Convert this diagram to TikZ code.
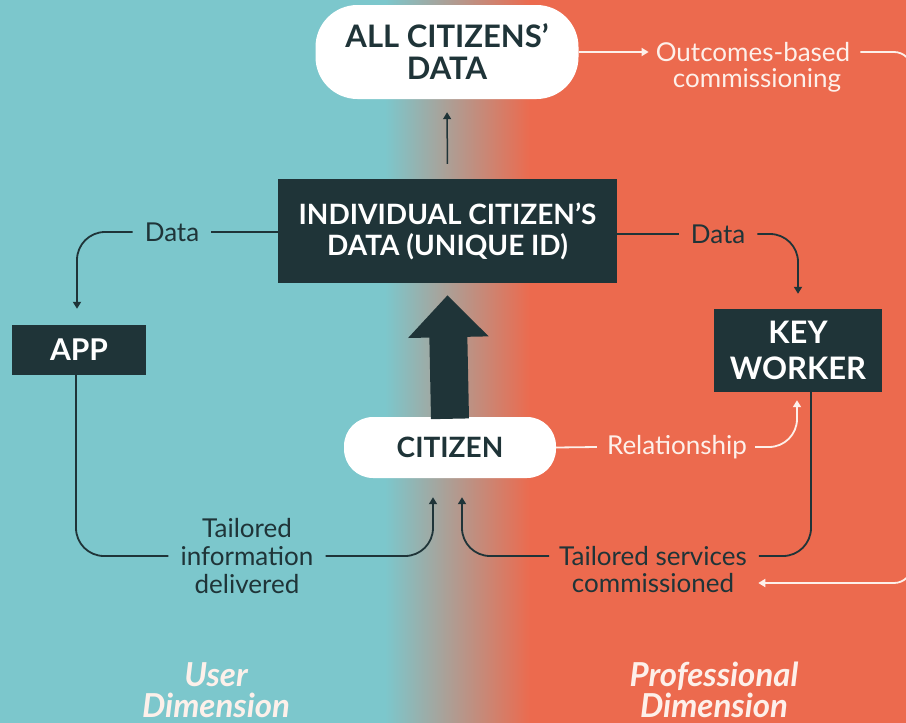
\documentclass[tikz,border=0pt]{standalone}
\usepackage{fontspec}
\setmainfont{Lato}
\usetikzlibrary{arrows.meta}
\definecolor{tealbg}{RGB}{124,199,204}
\definecolor{coralbg}{RGB}{236,106,78}
\definecolor{tanbg}{RGB}{198,166,140}
\definecolor{darkbox}{RGB}{31,52,56}
\definecolor{lighttxt}{RGB}{253,240,234}
\begin{document}
\begin{tikzpicture}[x=1pt,y=-1pt,
  box/.style={fill=darkbox, text=white, font=\bfseries\fontsize{30}{36}\selectfont, align=center, inner sep=0pt},
  pillbox/.style={fill=white, text=darkbox, font=\bfseries\fontsize{28}{32}\selectfont, align=center, inner sep=0pt},
  lbl/.style={font=\fontsize{26}{28}\selectfont, inner sep=0pt, align=center},
  darklbl/.style={lbl, text=darkbox},
  lightlbl/.style={lbl, text=lighttxt},
  tipd/.style={-{Triangle[length=7pt,width=8pt]}},
  darkln/.style={draw=darkbox, line width=1.8pt, rounded corners=28pt},
  lightln/.style={draw=lighttxt, line width=1.8pt, rounded corners=28pt},
  dimlbl/.style={font=\bfseries\itshape\fontsize{33}{31}\selectfont, text=lighttxt, align=center, inner sep=0pt}
]
\useasboundingbox (0,0) rectangle (906,723);
\clip (0,0) rectangle (906,723);
% background
\fill[tealbg] (0,0) rectangle (386,723);
\shade[left color=tealbg, middle color=tanbg, right color=coralbg] (385,0) rectangle (531,723);
\fill[coralbg] (530,0) rectangle (906,723);

% nodes
\node[pillbox, rounded corners=42pt, minimum width=263pt, minimum height=94pt, font=\bfseries\fontsize{31}{32}\selectfont] (all) at (447,52) {ALL CITIZENS’\\DATA};
\node[box, minimum width=339pt, minimum height=104pt, font=\bfseries\fontsize{28}{31}\selectfont] (indiv) at (447.5,231) {INDIVIDUAL CITIZEN’S\\DATA (UNIQUE ID)};
\node[box, minimum width=134pt, minimum height=50pt] (app) at (79,350) {APP};
\node[box, minimum width=168pt, minimum height=83pt, font=\bfseries\fontsize{31}{36}\selectfont] (key) at (798,350.5) {KEY\\WORKER};
\node[pillbox, rounded corners=29pt, minimum width=212pt, minimum height=61pt] (citizen) at (450,447.5) {CITIZEN};

% labels
\node[darklbl] (dataL) at (172,232) {Data};
\node[darklbl] (dataR) at (718,234) {Data};
\node[lightlbl] (outc) at (753,52) {Outcomes-based};
\node[lightlbl] (outc2) at (757,80) {commissioning};
\node[lightlbl] (rel) at (677,447) {Relationship};
\node[darklbl] (info) at (247,556) {Tailored\\information\\delivered};
\node[darklbl] (serv) at (653,556) {Tailored services};
\node[darklbl] (serv2) at (653,583) {commissioned};
\node[dimlbl] (user) at (216,690) {User\\Dimension};
\node[dimlbl] (prof) at (714,690) {Professional\\Dimension};
\coordinate (redge) at (912,300);

% big arrow
\draw[darkbox, line width=38pt, -{Triangle[length=42pt,width=78pt]}] ([yshift=-2pt]citizen.north) -- ([yshift=-12pt]indiv.south);

% connectors
\draw[darkln, line width=1.5pt, tipd, shorten <=15pt, shorten >=13pt] (indiv.north) -- (all.south);
\draw[darkln] (indiv.west |- dataL) -- ([xshift=12pt]dataL.east);
\draw[darkln, tipd] ([xshift=-12pt]dataL.west) -| ([xshift=-2pt,yshift=16pt]app.north);
\draw[darkln] (indiv.east |- dataR) -- ([xshift=-12pt]dataR.west);
\draw[darkln, tipd] ([xshift=12pt]dataR.east) -| ([yshift=15pt]key.north);
\draw[lightln] (citizen.east) -- ([xshift=-10pt]rel.west);
\draw[lightln, tipd] ([xshift=8pt]rel.east) -| ([xshift=-1pt,yshift=-8pt]key.south);
\draw[darkln] ([xshift=13pt]key.south) |- ([xshift=12pt]serv.east);
\draw[darkln, tipd] ([xshift=-10pt]serv.west) -| ([xshift=12pt,yshift=-19pt]citizen.south);
\draw[darkln] ([xshift=-3pt]app.south) |- ([xshift=-12pt]info.west);
\draw[darkln, tipd] ([xshift=12pt]info.east) -| ([xshift=-17pt,yshift=-19pt]citizen.south);
\draw[lightln, tipd] (all.east) -- ([xshift=-7pt]outc.west);
\draw[lightln, tipd, rounded corners=18pt] ([xshift=10pt]outc.east) -| (redge) |- ([xshift=24pt]serv2.east);
\end{tikzpicture}
\end{document}
